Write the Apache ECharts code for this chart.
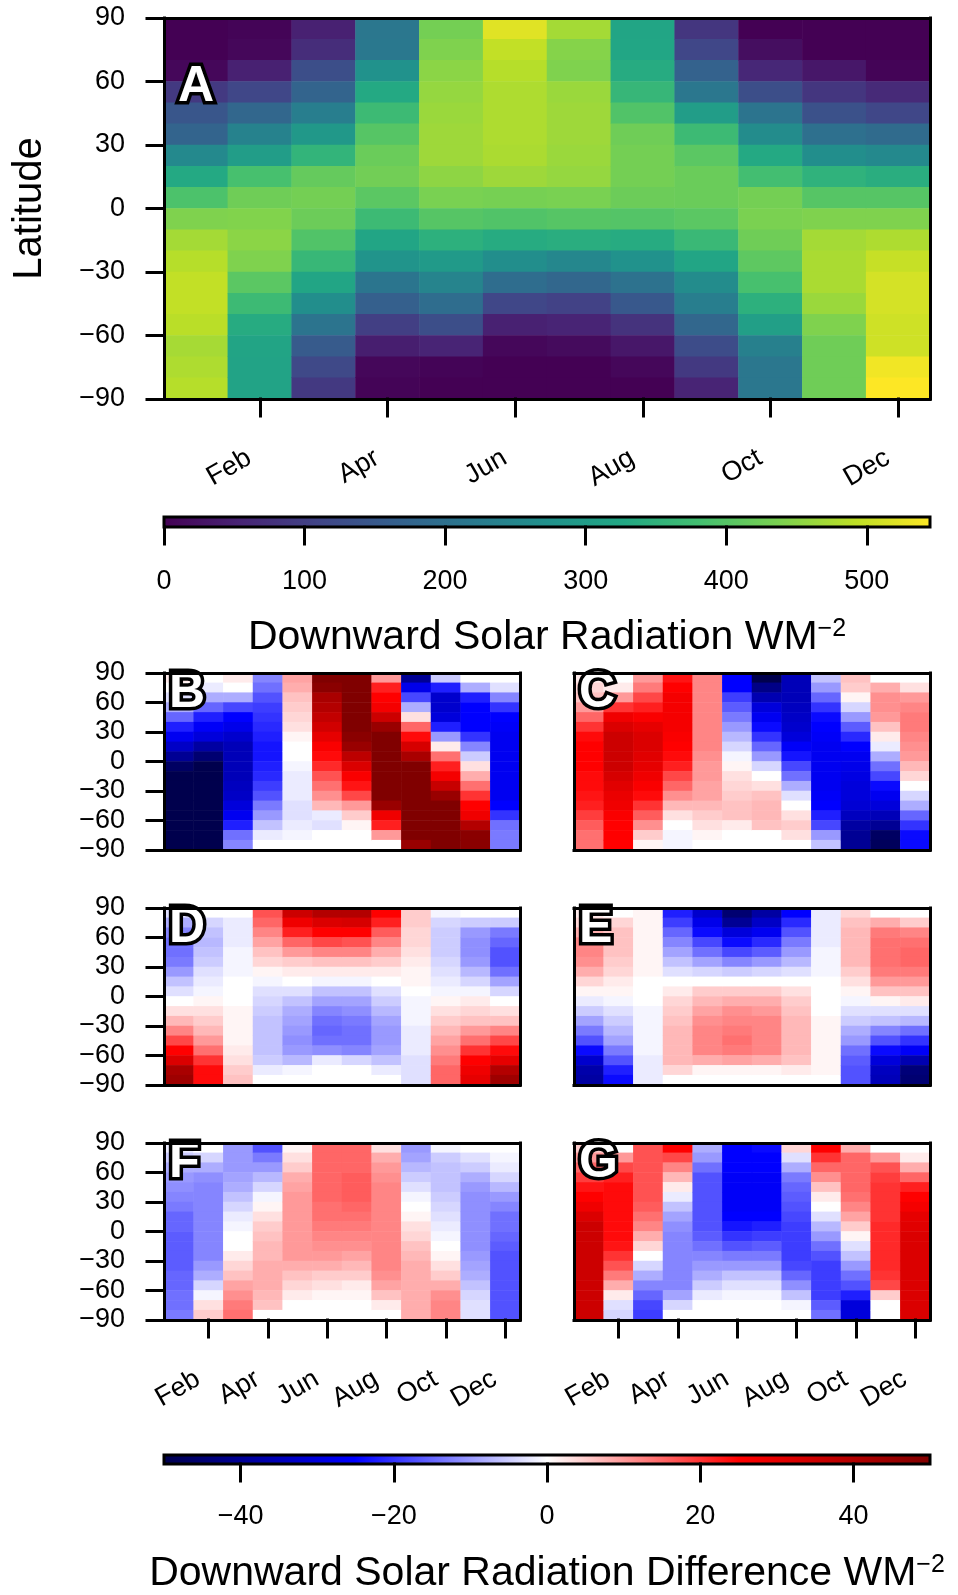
<!DOCTYPE html>
<html><head><meta charset="utf-8">
<script src="https://cdn.jsdelivr.net/npm/echarts@6/dist/echarts.min.js"></script>
<style>html,body{margin:0;padding:0;background:#fff}#c{width:958px;height:1595px}</style>
</head><body><div id="c"></div>
<script>
const months = ['Jan','Feb','Mar','Apr','May','Jun','Jul','Aug','Sep','Oct','Nov','Dec'];
const latBands = [85,75,65,55,45,35,25,15,5,-5,-15,-25,-35,-45,-55,-65,-75,-85];
const latTicks = [-90,-60,-30,0,30,60,90];
const solarTicks = [0,100,200,300,400,500];
const diffTicks = [-40,-20,0,20,40];
const solarRange = [0,545];
const diffRange = [-50,50];

// Panel A: downward solar radiation (W m-2); one row per month, values 85N -> 85S
const panelA = [
 [0,0,10,90,145,175,255,330,390,440,470,485,495,495,488,472,478,485],
 [5,10,50,115,180,240,300,385,425,442,450,440,405,370,335,318,315,315],
 [50,70,130,175,230,290,355,415,430,422,395,362,320,265,210,155,120,90],
 [215,218,275,330,370,400,420,428,405,370,320,280,212,165,100,45,10,5],
 [430,440,450,458,462,465,465,452,435,400,345,295,245,195,130,55,5,0],
 [520,495,485,478,478,478,476,465,432,395,335,265,195,115,50,10,0,0],
 [470,445,440,462,465,465,462,458,435,400,340,250,180,105,55,15,0,0],
 [320,322,335,360,395,425,430,430,422,398,335,275,205,150,80,35,10,0],
 [85,115,170,215,300,370,405,420,420,405,365,320,262,230,180,125,90,55],
 [0,20,60,130,210,262,330,380,430,436,425,408,385,345,305,235,215,215],
 [0,0,35,85,135,200,265,350,400,440,470,475,475,462,440,425,425,425],
 [0,0,5,65,115,190,255,340,400,440,478,498,510,510,505,505,535,545]
];
// Panels B-G: differences (W m-2); one row per month, values 85N -> 85S
const diffB = [
 [2,0,-3,-8,-15,-22,-27,-33,-40,-47,-50,-50,-50,-50,-50,-50,-50,-50],
 [0,-2,-8,-15,-22,-26,-30,-38,-45,-50,-50,-50,-50,-50,-50,-50,-50,-50],
 [2,0,-8,-18,-25,-28,-32,-35,-35,-35,-35,-34,-33,-30,-27,-22,-14,-12],
 [-12,-14,-17,-19,-20,-21,-22,-23,-23,-22,-21,-19,-17,-13,-10,-6,-2,0],
 [9,8,6,5,4,3,1,0,0,-1,-2,-2,-2,-3,-3,-2,-1,0],
 [50,48,42,40,37,34,30,26,24,21,17,14,11,7,-2,-3,0,0],
 [50,50,50,50,50,50,48,45,38,32,26,23,18,10,5,1,0,0],
 [10,22,25,27,35,45,50,50,50,50,50,50,50,45,28,22,10,0],
 [-40,-28,-18,-8,3,15,24,33,42,50,50,50,50,50,50,50,50,45],
 [-5,-22,-32,-32,-30,-22,-10,2,14,22,27,36,45,50,50,50,50,50],
 [0,-8,-22,-25,-25,-25,-20,-12,-5,3,8,14,20,25,28,40,48,48],
 [0,-3,-12,-20,-25,-26,-27,-27,-27,-27,-27,-27,-27,-25,-20,-14,-13,-13]
];
const diffC = [
 [2,4,6,10,15,20,24,25,25,25,24,24,23,22,19,16,14,14],
 [0,2,10,20,28,32,35,35,35,35,33,31,29,28,26,25,25,25],
 [10,13,18,22,26,30,32,32,31,30,28,26,24,20,16,11,5,1],
 [23,25,27,27,27,27,26,25,24,22,18,15,11,7,3,0,-1,-1],
 [12,12,12,12,12,12,12,12,11,10,10,9,9,7,5,3,1,0],
 [-25,-25,-19,-16,-13,-10,-7,-4,-1,1,3,4,5,6,6,2,0,0],
 [-50,-42,-36,-30,-27,-24,-20,-15,-10,-4,0,3,6,7,7,6,0,0],
 [-35,-35,-35,-34,-33,-32,-30,-26,-23,-18,-14,-8,-3,0,3,5,3,0],
 [-6,-10,-15,-20,-24,-25,-26,-27,-27,-27,-27,-27,-26,-25,-22,-18,-10,-6],
 [6,5,1,-4,-10,-16,-21,-25,-27,-28,-29,-30,-30,-31,-34,-38,-40,-40],
 [0,8,11,11,10,6,2,-2,-8,-14,-18,-24,-27,-30,-35,-40,-47,-48],
 [0,3,10,12,13,13,12,11,10,7,4,0,-4,-8,-15,-20,-24,-24]
];
const diffD = [
 [-3,-8,-12,-14,-14,-13,-10,-6,-3,0,3,7,12,18,25,32,42,44],
 [0,-4,-6,-7,-6,-5,-3,-2,-1,1,3,5,7,10,14,20,24,24],
 [0,-2,-2,-2,-1,-1,-1,0,0,0,1,1,1,1,2,3,5,6],
 [17,15,12,9,6,4,1,-1,-3,-4,-5,-6,-6,-6,-6,-5,-2,0],
 [35,28,22,15,10,5,2,0,-3,-6,-8,-9,-10,-11,-10,-7,-1,0],
 [40,32,25,18,12,6,2,-1,-6,-9,-12,-14,-15,-14,-11,-2,0,0],
 [40,33,25,17,12,6,2,-1,-6,-9,-11,-13,-14,-14,-12,-4,0,0],
 [25,22,16,12,8,5,2,0,-3,-5,-7,-9,-10,-10,-9,-6,-2,0],
 [5,5,4,4,3,2,1,1,0,-1,-1,-1,-2,-2,-2,-3,-3,-3],
 [-1,-4,-5,-5,-5,-4,-3,-2,-1,1,3,5,7,9,11,13,15,15],
 [0,-5,-10,-11,-11,-10,-7,-4,-1,2,4,6,10,14,20,25,28,30],
 [0,-5,-13,-15,-17,-17,-14,-9,-4,0,3,6,12,18,24,30,40,44]
];
const diffE = [
 [2,4,8,12,12,11,8,4,1,-2,-5,-9,-13,-17,-24,-32,-37,-38],
 [0,4,6,6,6,5,4,2,1,-1,-3,-5,-7,-9,-13,-17,-22,-24],
 [1,1,1,1,1,1,1,0,0,0,-1,-1,-1,-1,-1,-2,-2,-2],
 [-22,-19,-15,-12,-9,-6,-3,0,2,4,5,6,7,7,7,7,4,0],
 [-32,-28,-24,-18,-14,-9,-4,0,5,7,9,11,12,12,12,8,1,0],
 [-45,-40,-30,-24,-18,-12,-5,0,5,8,11,12,13,14,13,9,1,0],
 [-38,-33,-27,-21,-16,-10,-4,0,5,8,10,12,12,12,12,8,1,0],
 [-25,-21,-17,-13,-10,-7,-3,0,3,5,6,7,7,7,7,6,2,0],
 [-2,-2,-2,-2,-1,-1,-1,0,0,0,0,1,1,1,1,1,1,0],
 [4,6,7,7,7,7,5,3,1,-1,-3,-5,-8,-10,-14,-16,-17,-17],
 [0,8,13,14,14,14,13,10,6,1,-3,-6,-12,-17,-24,-30,-34,-35],
 [0,5,12,14,15,15,13,10,6,2,-3,-7,-14,-20,-26,-36,-44,-45]
];
const diffF = [
 [-2,-5,-8,-10,-11,-12,-13,-15,-15,-16,-16,-16,-16,-15,-15,-14,-14,-13],
 [0,-4,-8,-11,-12,-12,-12,-12,-12,-12,-12,-12,-10,-8,-4,-1,3,5],
 [-10,-10,-10,-9,-8,-6,-4,-2,-1,0,0,2,4,6,9,11,13,14],
 [-17,-13,-10,-7,-4,-1,1,3,5,6,7,7,8,8,8,7,6,0],
 [1,3,5,8,9,10,10,10,10,10,10,10,8,6,4,2,0,0],
 [15,15,15,15,15,15,14,14,13,12,11,10,8,5,3,1,0,0],
 [15,15,15,16,16,16,15,14,13,12,11,9,7,5,2,1,0,0],
 [3,8,10,11,12,12,12,12,12,12,12,12,12,11,9,6,2,0],
 [-10,-9,-7,-5,-3,-1,0,1,3,4,6,7,8,8,8,8,8,8],
 [-1,-5,-6,-6,-6,-5,-4,-3,-2,-1,0,1,3,5,8,11,12,12],
 [0,-3,-5,-8,-10,-11,-11,-11,-11,-11,-11,-10,-9,-8,-6,-4,-3,-3],
 [0,-1,-2,-4,-7,-10,-12,-14,-14,-15,-16,-17,-17,-17,-17,-17,-17,-17]
];
const diffG = [
 [5,10,15,19,23,25,28,32,35,35,35,35,35,35,35,35,35,35],
 [0,10,18,22,24,24,24,24,24,24,23,20,17,13,8,2,-3,-4],
 [17,17,17,17,17,17,16,14,12,8,4,0,-4,-8,-12,-15,-18,-19],
 [25,18,12,7,2,-2,-6,-9,-11,-12,-12,-12,-12,-12,-12,-9,-4,0],
 [-8,-10,-14,-17,-17,-17,-17,-17,-17,-16,-14,-12,-10,-8,-5,-2,0,0],
 [-25,-25,-25,-26,-26,-26,-26,-25,-23,-20,-17,-13,-10,-6,-3,-1,0,0],
 [-24,-25,-25,-26,-26,-26,-26,-25,-22,-19,-16,-13,-10,-6,-3,-1,0,0],
 [4,-3,-8,-13,-15,-16,-17,-18,-19,-19,-19,-19,-18,-15,-11,-6,-1,0],
 [25,20,15,11,6,2,0,-3,-7,-10,-14,-17,-19,-19,-19,-19,-16,-14],
 [8,15,15,15,15,14,12,9,5,1,-3,-6,-10,-14,-17,-22,-30,-30],
 [0,10,17,19,20,20,20,20,21,21,21,21,21,20,18,5,0,0],
 [0,2,8,15,22,25,27,30,31,32,32,32,32,32,32,32,32,32]
];

const viridis = ['#440154','#482475','#414487','#355f8d','#2a788e','#21918c','#22a884','#44bf70','#7ad151','#bddf26','#fde725'];
const seismic = ['#00004d','#0000ff','#ffffff','#ff0000','#800000'];
const FONT = 'Liberation Sans';
const line = {color:'#000', width:3, cap:'square'};
const tickFont = {fontFamily:FONT, fontSize:27, color:'#000'};
const fmt = v => v < 0 ? '\u2212' + Math.abs(v) : String(v);

function cells(rows, lo, hi){
  const out = [];
  rows.forEach((col, m) => col.forEach((v, j) => out.push([m, j, Math.min(hi, Math.max(lo, v))])));
  return out;
}

const panels = [
  {rows:panelA, range:solarRange, letter:'A', left:164, top:18, width:766, height:381, xl:true, yl:true, lx:178, ly:62},
  {rows:diffB, range:diffRange, letter:'B', left:164, top:673, width:356, height:177, xl:false, yl:true},
  {rows:diffC, range:diffRange, letter:'C', left:574, top:673, width:356, height:177, xl:false, yl:false},
  {rows:diffD, range:diffRange, letter:'D', left:164, top:908, width:356, height:177, xl:false, yl:true},
  {rows:diffE, range:diffRange, letter:'E', left:574, top:908, width:356, height:177, xl:false, yl:false},
  {rows:diffF, range:diffRange, letter:'F', left:164, top:1143, width:356, height:177, xl:true, yl:true},
  {rows:diffG, range:diffRange, letter:'G', left:574, top:1143, width:356, height:177, xl:true, yl:false}
];

const grid = [], xAxis = [], yAxis = [], series = [], title = [];
const even = k => k % 2 === 1;
panels.forEach((p, i) => {
  grid.push({left:p.left, top:p.top, width:p.width, height:p.height});
  const xi = xAxis.length;
  xAxis.push({gridIndex:i, type:'category', data:months, position:'bottom', boundaryGap:true, z:10,
    axisLine:{onZero:false, lineStyle:line},
    axisTick:{show:p.xl, alignWithLabel:true, interval:even, length:17, lineStyle:line},
    axisLabel:{show:p.xl, interval:even, rotate:30, margin:51, padding:[0,12,0,0], ...tickFont},
    splitLine:{show:false}});
  xAxis.push({gridIndex:i, type:'category', data:months, position:'top', z:10,
    axisLine:{onZero:false, lineStyle:line}, axisTick:{show:false}, axisLabel:{show:false}, splitLine:{show:false}});
  const yi = yAxis.length;
  yAxis.push({gridIndex:i, type:'category', data:latBands.map(String), inverse:true, position:'right', z:10,
    axisLine:{onZero:false, lineStyle:line}, axisTick:{show:false}, axisLabel:{show:false}, splitLine:{show:false}});
  yAxis.push({gridIndex:i, type:'value', min:latTicks[0], max:latTicks[latTicks.length-1], interval:30, position:'left', z:10,
    axisLine:{show:true, onZero:false, lineStyle:line},
    axisTick:{show:p.yl, length:17, lineStyle:line},
    axisLabel:{show:p.yl, margin:39, formatter:fmt, ...tickFont, padding:[3,0,0,0]},
    splitLine:{show:false},
    name: i === 0 ? 'Latitude' : '', nameLocation:'middle', nameGap:114, nameRotate:90,
    nameTextStyle:{fontFamily:FONT, fontSize:40, color:'#000'}});
  series.push({type:'heatmap', xAxisIndex:xi, yAxisIndex:yi, data:cells(p.rows, p.range[0], p.range[1]),
    emphasis:{disabled:true}, progressive:0, silent:true});
  const big = i === 0;
  title.push({text:p.letter, left: big ? p.lx : p.left + 5, top: big ? p.ly : p.top - 5, padding:0,
    textStyle:{fontFamily:FONT, fontWeight:'bold', fontSize:50, color:'#fff', textBorderColor:'#000', textBorderWidth:7}});
});

function colorbar(gi, range, ticks, colors, top, name, labelMargin, nameGap){
  grid.push({left:164, top:top, width:766, height:10});
  const xi = xAxis.length, yi = yAxis.length;
  xAxis.push({gridIndex:gi, type:'value', min:range[0], max:range[1], position:'bottom', z:10,
    axisLine:{show:false}, splitLine:{show:false},
    axisTick:{show:true, customValues:ticks, length:17, lineStyle:line},
    axisLabel:{customValues:ticks, margin:labelMargin, formatter:fmt, ...tickFont},
    name:name, nameLocation:'middle', nameGap:nameGap,
    nameTextStyle:{fontFamily:FONT, fontSize:41, color:'#000', rich:{s:{fontFamily:FONT, fontSize:25, color:'#000', verticalAlign:'top'}}}});
  yAxis.push({gridIndex:gi, type:'value', min:0, max:1, show:false});
  const stops = colors.map((c, k) => ({offset:k/(colors.length-1), color:c}));
  series.push({type:'custom', xAxisIndex:xi, yAxisIndex:yi, silent:true, data:[[range[0], range[1]]], encode:{x:[0,1]},
    renderItem:(params, api) => {
      const a = api.coord([api.value(0), 1]);
      const b = api.coord([api.value(1), 0]);
      return {type:'rect', shape:{x:a[0], y:a[1], width:b[0]-a[0], height:b[1]-a[1]},
        style:{fill:new echarts.graphic.LinearGradient(0,0,1,0,stops), stroke:'#000', lineWidth:3}};
    }});
}
colorbar(7, solarRange, solarTicks, viridis, 517, 'Downward Solar Radiation WM{s|\u22122}', 41, 90);
colorbar(8, diffRange, diffTicks, seismic, 1455, 'Downward Solar Radiation Difference WM{s|\u22122}', 39, 89);

const chart = echarts.init(document.getElementById('c'), null, {renderer:'canvas'});
chart.setOption({
  animation:false,
  backgroundColor:'#fff',
  title, grid, xAxis, yAxis, series,
  visualMap:[
    {type:'continuous', show:false, min:solarRange[0], max:solarRange[1], seriesIndex:[0], inRange:{color:viridis}},
    {type:'continuous', show:false, min:diffRange[0], max:diffRange[1], seriesIndex:[1,2,3,4,5,6], inRange:{color:seismic}}
  ]
});
</script></body></html>
